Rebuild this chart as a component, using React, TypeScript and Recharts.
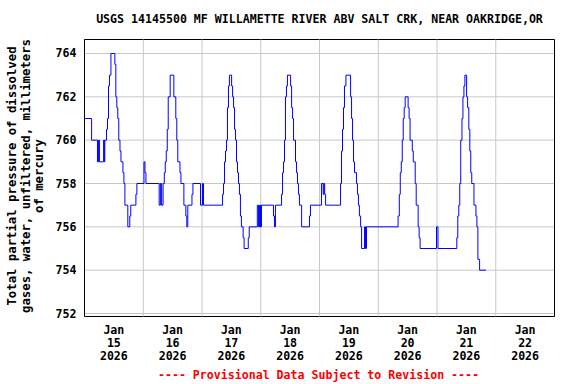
import { CartesianGrid, Line, LineChart, ReferenceArea, ReferenceLine, XAxis, YAxis } from 'recharts';

// Hours since Jan 15 2026 00:00, with the reading that holds from that hour on (step line).
const HOURS = [
  0, 2.9, 5.3, 5.7, 6.1, 7.8, 8.1, 8.3, 9.0, 9.4, 9.8, 10.2, 10.8, 12.4, 12.8, 13.2, 13.6, 14.0,
  14.5, 14.9, 15.7, 16.1, 16.5, 17.7, 18.5, 18.9, 21.0, 21.4, 24.3, 24.7, 25.1, 30.5, 31.0, 31.5,
  32.1, 32.6, 33.0, 33.4, 33.8, 34.2, 35.0, 36.5, 37.3, 37.7, 38.1, 39.0, 39.4, 40.6, 41.4, 41.8,
  42.2, 43.9, 44.3, 47.4, 48.2, 48.6, 56.4, 56.8, 57.2, 57.6, 58.0, 58.4, 58.8, 59.2, 60.1, 60.5,
  60.9, 61.3, 61.7, 62.1, 62.5, 62.9, 63.3, 63.7, 64.1, 64.8, 65.2, 66.9, 67.3, 70.6, 71.1, 71.5,
  71.9, 72.3, 77.2, 77.6, 78.0, 80.5, 80.9, 81.3, 81.7, 82.1, 82.5, 82.9, 84.2, 84.6, 85.0, 85.4,
  86.2, 86.6, 87.0, 87.4, 87.8, 88.7, 91.9, 92.3, 96.8, 97.5, 97.8, 98.1, 98.5, 104.6, 105.0,
  105.4, 105.8, 106.2, 106.8, 108.7, 109.1, 109.5, 109.9, 110.3, 111.1, 111.5, 111.9, 112.3,
  112.8, 113.2, 114.4, 114.8, 115.2, 128.1, 128.6, 129.0, 129.4, 129.8, 130.2, 130.6, 131.0,
  132.2, 132.6, 133.0, 133.9, 134.3, 135.1, 135.5, 136.3, 136.7, 137.1, 143.8, 144.4, 152.1,
  152.5, 152.9, 153.3, 153.7, 154.2, 154.6, 155.0, 155.4, 156.1, 156.5, 157.0, 157.4, 157.8,
  158.2, 159.1, 159.9, 160.3, 160.7, 161.4, 164.0,
];

const PRESSURE = [
  761, 760, 759, 760, 759, 760, 759, 760, 760.5, 761, 762.5, 763, 764, 763.5, 762, 761.5, 761, 760,
  759.5, 759, 758.5, 758, 757, 756, 756.5, 757, 757.5, 758, 759, 758.5, 758, 757, 758, 757,
  758, 758.5, 759, 759.5, 760.5, 762, 763, 762, 761, 760, 759, 758.5, 758, 757, 756.5, 756,
  757, 757.5, 758, 757, 758, 757, 757.5, 758, 759, 759.5, 760, 761.5, 762.5, 763, 762.5, 762,
  761.5, 760.5, 760, 759, 758.5, 758, 757.5, 756.5, 756, 755.5, 755, 755.5, 756, 757, 756, 757,
  756, 757, 756.5, 756, 757, 757.5, 758.5, 759, 760, 762, 762.5, 763, 762.5, 761.5, 761, 760,
  759, 758.5, 758, 757.5, 757, 756, 756.5, 757, 758, 757.5, 758, 757.5, 757, 758, 759.5,
  760.5, 761.5, 762.5, 763, 762, 761, 760, 759, 758.5, 758, 757.5, 757, 756.5,
  756, 755, 756, 755, 756, 756.5, 757.5, 758.5, 759, 760, 761, 761.5, 762,
  761.5, 761, 760, 759.5, 759, 758, 757, 756, 755.5, 755, 756, 755, 755.5,
  756.5, 757, 758, 760, 761, 762, 762.5, 763, 762, 761.5, 760.5, 759.5, 758.5,
  758, 757, 756.5, 756, 754.5, 754, 754,
];

const Y_TICKS = [752, 754, 756, 758, 760, 762, 764];
const X_TICKS = [12, 36, 60, 84, 108, 132, 156, 180]; // noon of each day
const DAY_LABELS = ['15', '16', '17', '18', '19', '20', '21', '22'];
const MIDNIGHTS = [24, 48, 72, 96, 120, 144, 168];

const TITLE = 'USGS 14145500 MF WILLAMETTE RIVER ABV SALT CRK, NEAR OAKRIDGE,OR';
const Y_TITLE = ['Total partial pressure of dissolved', 'gases, water, unfiltered, millimeters', 'of mercury'];
const NOTE = '---- Provisional Data Subject to Revision ----';

const FONT = '"DejaVu Sans Mono", monospace';
const GRID = '#c8c8c8';
const Y_DOMAIN = [751.862, 764.646];

const data = HOURS.map((h, i) => ({ h, v: PRESSURE[i] }));

function DateTick({ x, y, payload }: any) {
  const i = X_TICKS.indexOf(payload.value);
  return (
    <text x={x} y={y} textAnchor="middle" fontFamily={FONT} fontSize={11.6} fontWeight="bold" fill="#000">
      <tspan x={x} dy={17.5}>Jan</tspan>
      <tspan x={x} dy={13}>{DAY_LABELS[i]}</tspan>
      <tspan x={x} dy={13}>2026</tspan>
    </text>
  );
}

function ValueTick({ x, y, payload }: any) {
  return (
    <text x={x} y={y} dy={4} textAnchor="end" fontFamily={FONT} fontSize={11.6} fontWeight="bold" fill="#000">
      {payload.value}
    </text>
  );
}

export default function App() {
  return (
    <div style={{ position: 'absolute', left: 0, top: 0, width: 576, height: 384, background: '#fff' }}>
      <LineChart width={576} height={384} data={data} margin={{ top: 39.5, right: 21.5, bottom: 7.5, left: 0.5 }}>
        <CartesianGrid vertical={false} stroke={GRID} strokeWidth={1} />
        {MIDNIGHTS.map((m) => (
          <ReferenceLine key={m} x={m} stroke={GRID} strokeWidth={1} />
        ))}
        <XAxis
          dataKey="h"
          type="number"
          domain={[0, 192]}
          ticks={X_TICKS}
          allowDataOverflow
          axisLine={false}
          tickLine={false}
          tickSize={0}
          tickMargin={0}
          height={60}
          interval={0}
          tick={<DateTick />}
        />
        <YAxis
          type="number"
          domain={Y_DOMAIN}
          ticks={Y_TICKS}
          allowDataOverflow
          axisLine={false}
          tickLine={false}
          tickSize={0}
          tickMargin={8}
          width={84}
          interval={0}
          tick={<ValueTick />}
        />
        <Line
          type="stepAfter"
          dataKey="v"
          stroke="#0000ff"
          strokeWidth={1}
          dot={false}
          activeDot={false}
          isAnimationActive={false}
        />
        <ReferenceArea x1={0} x2={192} y1={Y_DOMAIN[0]} y2={Y_DOMAIN[1]} fill="none" stroke="#000" strokeWidth={1} fillOpacity={0} />
      </LineChart>
      <svg width={576} height={384} style={{ position: 'absolute', left: 0, top: 0, pointerEvents: 'none' }}>
        <text x={319.5} y={23} textAnchor="middle" fontFamily={FONT} fontSize={11.6} fontWeight="bold" fill="#000">
          {TITLE}
        </text>
        {Y_TITLE.map((line, i) => (
          <text
            key={line}
            transform={`translate(${11.7 + i * 13.8},176) rotate(-90)`}
            textAnchor="middle"
            dominantBaseline="central"
            fontFamily={FONT}
            fontSize={12.3}
            fontWeight="bold"
            fill="#000"
          >
            {line}
          </text>
        ))}
        <text x={318.5} y={378.5} textAnchor="middle" fontFamily={FONT} fontSize={11.6} fontWeight="bold" fill="#ff0000">
          {NOTE}
        </text>
      </svg>
    </div>
  );
}
